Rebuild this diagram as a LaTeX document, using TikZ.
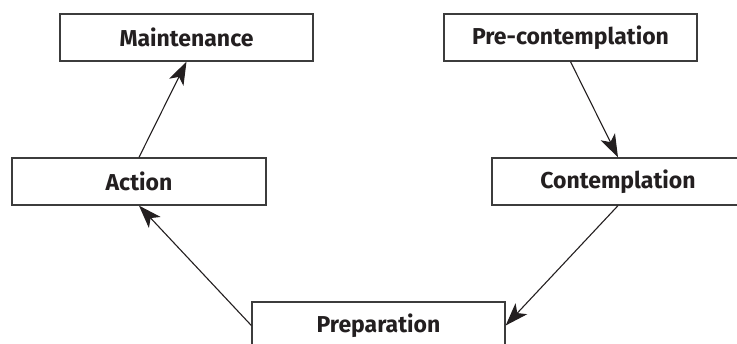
\documentclass[tikz,border=0pt]{standalone}
\usepackage{fontspec}
\setmainfont{Fira Sans}
\usetikzlibrary{arrows.meta}
\definecolor{boxline}{HTML}{3C3C3C}
\definecolor{ink}{HTML}{231F20}
\begin{document}
\begin{tikzpicture}[x=1pt,y=-1pt,
  stagebox/.style={draw=boxline, line width=1.3pt, fill=white, rectangle,
    minimum height=47pt, inner sep=0pt, text=ink,
    font=\fontsize{23}{26}\selectfont\bfseries},
  link/.style={draw=ink, line width=1.1pt,
    -{Stealth[length=23pt,width=16pt,inset=6pt]}}]
\useasboundingbox (0,0) rectangle (737,344);
\clip (0,0) rectangle (737,344);
\node[stagebox, minimum width=253pt] (maint) at (186.5,37.5) {Maintenance};
\node[stagebox, minimum width=253pt] (precon) at (570.5,37.5) {Pre-contemplation};
\node[stagebox, minimum width=254pt] (action) at (139,181.5) {Action};
\node[stagebox, minimum width=252pt] (contem) at (618,181.5) {Contemplation};
\node[stagebox, minimum width=253pt] (prep) at (378.5,325.5) {Preparation};
\draw[link] (action.north) -- (maint.south);
\draw[link] (precon.south) -- (contem.north);
\draw[link] (contem.south) -- (prep.east);
\draw[link] (prep.west) -- (action.south);
\end{tikzpicture}
\end{document}
